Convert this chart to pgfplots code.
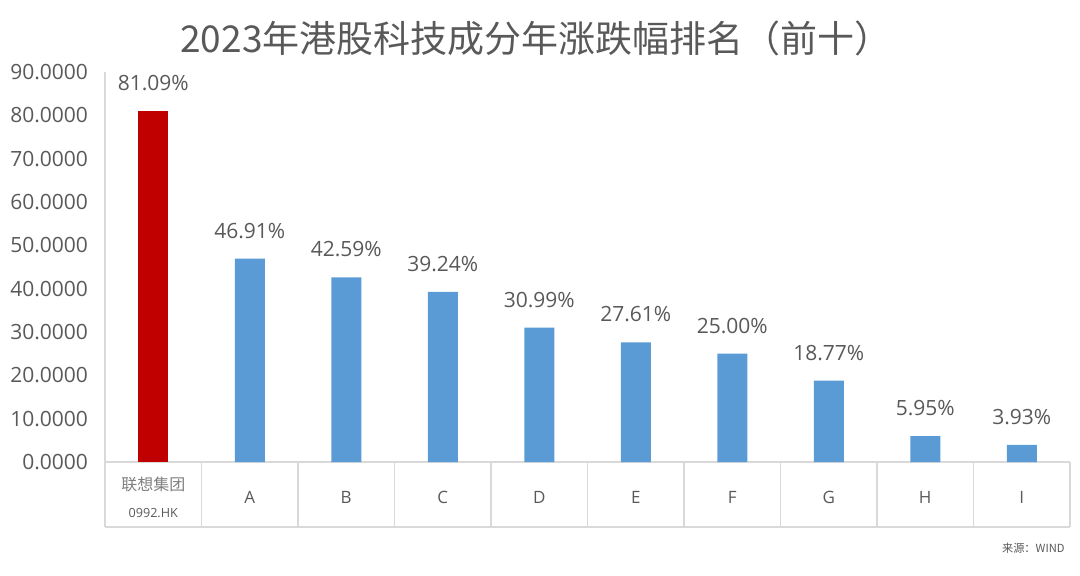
\documentclass[border=0pt]{standalone}
\usepackage{fontspec}
\setmainfont{Open Sans}
\newfontfamily\cjk{Noto Sans CJK SC}
\usepackage{pgfplots}
\pgfplotsset{compat=1.18}
\definecolor{txt}{HTML}{595959}
\definecolor{gridc}{HTML}{D9D9D9}
\definecolor{barblue}{HTML}{5B9BD5}
\definecolor{barred}{HTML}{C00000}

\begin{document}
\begin{tikzpicture}
\useasboundingbox (0,0) rectangle (540pt,287.5pt);
\begin{axis}[
  at={(52.5pt,56.5pt)}, anchor=south west,
  scale only axis, width=482.5pt, height=195pt,
  xmin=-0.5, xmax=9.5, ymin=0, ymax=90,
  axis x line*=bottom, axis y line*=left,
  axis line style={gridc, line width=0.9pt},
  ybar, bar width=15pt,
  ytick={0,10,...,90},
  yticklabel style={/pgf/number format/.cd, fixed, fixed zerofill, precision=4, /tikz/.cd,
    font=\fontsize{10.5}{12}\selectfont, color=txt, xshift=-5pt},
  /pgf/number format/assume math mode=true,
  ytick style={draw=none},
  xtick={0,...,9},
  xticklabels={{{\cjk\fontsize{8}{9}\selectfont\color[HTML]{7F7F7F}联想集团}\\[3.5pt]{\fontsize{6.3}{7}\selectfont 0992.HK}},A,B,C,D,E,F,G,H,I},
  xticklabel style={anchor=center, align=center, yshift=-13.5pt, color=txt,
    font=\fontsize{8.5}{10}\selectfont},
  xtick style={draw=none},
  nodes near coords={\pgfmathprintnumber[fixed,fixed zerofill,precision=2]{\pgfplotspointmeta}\%},
  nodes near coords style={anchor=center, yshift=14pt, color=txt,
    font=\fontsize{10.5}{12}\selectfont},
  clip=false,
]
\addplot[fill=barred, draw=none, bar shift=0pt] coordinates {(0,81.09)};
\addplot[fill=barblue, draw=none, bar shift=0pt] coordinates {
(1,46.91) (2,42.59) (3,39.24) (4,30.99) (5,27.61) (6,25.00) (7,18.77) (8,5.95) (9,3.93)};
\pgfplotsinvokeforeach{-0.5,0.5,1.5,2.5,3.5,4.5,5.5,6.5,7.5,8.5,9.5}{
  \draw[gridc, line width=0.9pt] (axis cs:#1,0) -- ([yshift=-32.5pt]axis cs:#1,0);
}
\draw[gridc, line width=0.9pt] ([yshift=-32.5pt]axis cs:-0.5,0) -- ([yshift=-32.5pt]axis cs:9.5,0);
\end{axis}
\node[font=\cjk\fontsize{18.5}{21}\selectfont, color=txt] at (268pt,268.5pt)
  {2023年港股科技成分年涨跌幅排名（前十）};
\node[anchor=east, inner sep=0pt, font=\cjk\fontsize{5.6}{6}\selectfont, color=txt] at (532.5pt,13.5pt) {来源：WIND};
\end{tikzpicture}
\end{document}
